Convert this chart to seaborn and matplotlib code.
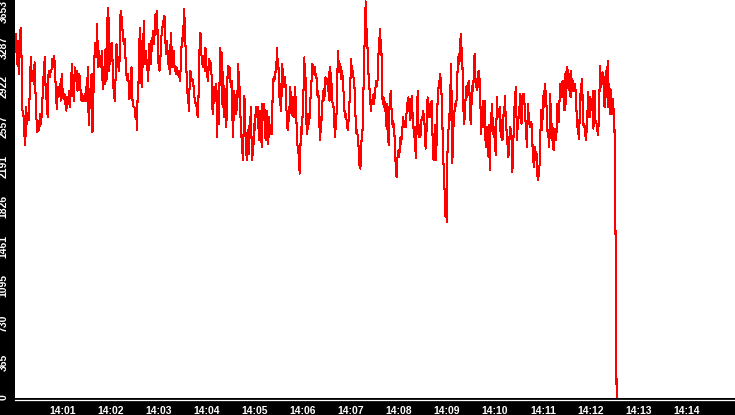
import numpy as np
import pandas as pd
import matplotlib
matplotlib.use("Agg")
import matplotlib.pyplot as plt
import matplotlib.dates as mdates
from matplotlib.transforms import ScaledTranslation
import seaborn as sns

# --- data (one segment per ~2 minutes) ---
DAY = "2024-01-01 "
seg_bounds = ["14:00:00", "14:02:06", "14:04:10", "14:06:15", "14:08:20", "14:10:25", "14:12:30"]

seg1 = [3202, 3339, 3065, 3278, 2973, 3247, 3399, 3126, 2638, 2608, 2425, 2319, 2669, 2517, 2608, 2547,
        2912, 3126, 2912, 3004, 2882, 3080, 2791, 2562, 2441, 2547, 2456, 2608, 2517, 2669, 2852, 3034,
        3126, 2760, 2730, 2578, 3004, 2943, 2989, 3004, 3110, 3034, 3141, 3004, 2745, 2654, 2852, 2791,
        2882, 2730, 2973, 2821, 2745, 2791, 2699, 2638, 2760, 2699, 2821, 2669, 2882, 3065, 2852, 2730,
        3034, 2912, 3004, 2821, 2912, 2973, 2852, 2730, 2791, 2730, 2760, 2730, 2852, 2730, 3034, 2502,
        2699, 2852, 2973, 2441, 2775, 3110, 3263, 3126, 3430, 3034, 3186, 3065, 3034, 3186, 2836, 3034,
        2882, 3202, 2912, 3476, 3582, 3004, 3247, 3095, 3263, 2912, 2791, 2730]

seg2 = [3004, 3247, 3186, 3034, 3126, 3004, 3217, 3552, 3521, 3460, 3354, 3278, 3247, 3293, 3156, 3004,
        2943, 2912, 2973, 2852, 2745, 2912, 2852, 3034, 2760, 2699, 2669, 2669, 2654, 2562, 2638, 2456,
        2821, 2852, 3095, 3399, 3308, 2943, 2852, 3034, 3217, 3460, 3126, 3065, 3186, 3095, 3065, 2912,
        3034, 3247, 3156, 3065, 3278, 3186, 3369, 3308, 3247, 3399, 3521, 3339, 3552, 3369, 3080, 3065,
        3004, 3065, 3278, 3339, 3384, 3460, 3430, 3506, 3460, 3156, 3232, 3278, 3065, 3186, 3065, 2973,
        3247, 3354, 3034, 3156, 3095, 3186, 3004, 3049, 2973, 3034, 3004, 2989, 2943, 2973, 2912, 3065,
        3217, 3308, 3278, 3415, 3567, 3369, 3217, 3034, 2912, 2775, 2730, 2638, 2912, 3004, 2943, 2912,
        2928, 2882, 2852, 2760, 2730, 2684, 2699, 2608, 2578, 2791, 3110, 3354, 3339, 3171, 3065, 3141,
        3034, 3095, 3004, 3217, 3126, 2943, 3034, 2912, 3110, 3065, 3095, 3065, 2958, 2669, 2608, 2730,
        2852]

seg3 = [2852, 2730, 2882, 2395, 2638, 2821, 2517, 3004, 3217, 3034, 3171, 2699, 2989, 2578, 2867, 2730,
        2760, 2486, 2730, 3004, 3049, 3004, 3034, 2912, 2852, 2912, 2608, 2395, 2608, 2821, 2669, 2760,
        2608, 2730, 2852, 3065, 2760, 2852, 2608, 2486, 2364, 2273, 2182, 2486, 2775, 2638, 2364, 2243,
        2182, 2456, 2364, 2243, 2578, 2486, 2669, 2304, 2182, 2364, 2334, 2517, 2456, 2638, 2669, 2578,
        2669, 2517, 2364, 2547, 2638, 2486, 2304, 2699, 2547, 2608, 2699, 2456, 2364, 2486, 2638, 2486,
        2334, 2578, 2486, 2425, 2425, 2425, 2669, 2897, 2943, 2912, 2958, 3004, 3034, 3217, 3034, 3110,
        2760, 2882, 2699, 2638, 2821, 3065, 2882, 2852, 2897, 2943, 2852, 2669, 2547, 2456, 2517, 2608,
        2699, 2852, 2669, 2593, 2760, 2608, 2578, 2730, 2852, 2730, 2578, 2364, 2304, 2273, 2182, 2060,
        2273, 2486, 2425, 2517, 2760, 2852, 3126, 2882, 2943, 2547, 2425, 2486, 2608, 2517, 2578, 2730,
        2821, 2943, 3065, 3034, 3004, 2973]

seg4 = [3034, 2943, 2973, 2836, 2760, 2821, 2669, 2456, 2364, 2578, 2547, 2669, 2821, 2730, 2836, 2775,
        2943, 2912, 2928, 2882, 2821, 2989, 2730, 3034, 2943, 2897, 2730, 2699, 2669, 2669, 2395, 2456,
        2547, 2638, 2973, 3186, 3065, 2989, 3065, 3034, 2928, 3004, 2943, 2836, 2760, 2608, 2578, 2608,
        2547, 2486, 2456, 2547, 2638, 2821, 2943, 3110, 2989, 3004, 2973, 2912, 2852, 2638, 2547, 2425,
        2456, 2395, 2334, 2151, 2121, 2106, 2273, 2395, 2425, 2578, 2943, 3186, 3369, 3640, 3415, 3339,
        3186, 3004, 2912, 2821, 2730, 2638, 2699, 2730, 2745, 2791, 2699, 2821, 2852, 2912, 2867, 2912,
        3095, 3217, 3308, 3384, 3217, 3186, 2821, 2699, 2760, 2730, 2638, 2715, 2547, 2471, 2699, 2425,
        2319, 2669, 2699, 2821, 2669, 2608, 2486, 2547, 2456, 2395, 2243, 2060, 2030, 2182, 2243, 2273,
        2212, 2304, 2395, 2334, 2425, 2486, 2578, 2486, 2547, 2517, 2486, 2608, 2669, 2730, 2760, 2669,
        2608, 2547, 2699, 2775, 2638, 2517, 2456, 2395]

seg5 = [2487, 2198, 2365, 2548, 2822, 2548, 2396, 2472, 2396, 2456, 2578, 2548, 2639, 2609, 2548, 2456,
        2289, 2396, 2548, 2761, 2639, 2578, 2700, 2609, 2578, 2730, 2548, 2243, 2183, 2335, 2502, 2304,
        2183, 2487, 2700, 2837, 2852, 2913, 2974, 2913, 2791, 2670, 2304, 2152, 1999, 1848, 1665, 1756,
        1619, 2243, 2456, 2472, 2609, 2548, 3065, 2883, 2152, 2243, 2487, 2517, 2700, 2670, 2730, 2730,
        2974, 3065, 3157, 3065, 3187, 3339, 3233, 3157, 2974, 2670, 2517, 2578, 2700, 2822, 2867, 2761,
        2807, 2913, 2852, 2670, 2517, 2670, 2761, 2883, 2822, 3065, 3157, 2974, 2852, 2883, 2822, 2898,
        3004, 2974, 2867, 2654, 2426, 2609, 2487, 2730, 2578, 2730, 2426, 2304, 2396, 2487, 2304, 2213,
        2502, 2091, 2456, 2517, 2700, 2578, 2426, 2487, 2396, 2304, 2228, 2548, 2761, 2578, 2624, 2609,
        2670, 2456, 2396, 2548, 2365, 2456, 2670, 2609, 2776, 2548, 2487, 2335, 2396, 2213, 2304, 2426,
        2487, 2411, 2365, 2076, 2243, 2456, 2670]

seg6 = [2670, 2853, 2670, 2366, 2488, 2548, 2609, 2685, 2792, 2762, 2518, 2670, 2746, 2792, 2731, 2670,
        2548, 2488, 2305, 2518, 2701, 2579, 2518, 2488, 2518, 2533, 2472, 2274, 2183, 2122, 2244, 2305,
        2183, 2244, 2061, 2001, 2031, 2122, 2153, 2457, 2640, 2457, 2548, 2701, 2822, 2670, 2883, 2792,
        2701, 2609, 2396, 2457, 2305, 2427, 2792, 2488, 2366, 2518, 2427, 2274, 2427, 2396, 2472, 2366,
        2518, 2701, 2579, 2533, 2701, 2883, 2762, 2838, 2883, 2914, 2792, 2640, 2975, 2640, 2883, 3020,
        3035, 2975, 2822, 2975, 2883, 2762, 3005, 2822, 2868, 2914, 2822, 2853, 2883, 2792, 2640, 2579,
        2427, 2548, 2381, 2579, 2792, 2731, 2929, 2853, 2579, 2488, 2518, 2457, 2396, 2366, 2548, 2640,
        2807, 2701, 2579, 2762, 2640, 2701, 2640, 2822, 2472, 2762, 2822, 2548, 2533, 2518, 2457, 2411,
        2518, 2731, 3051, 2853, 2914, 2975, 2990, 2883, 2944, 2670, 2701, 2822, 3005, 2975, 3096, 2670,
        2883, 2609, 2838, 2746, 2609, 2716, 2746, 2609, 2594]

# sensor drops out at the end
tail_times = ["14:12:31", "14:12:32"]
tail_values = [1245, 0]

y_tick_labels = ["0", "365", "730", "1095", "1461", "1826", "2191", "2557", "2922", "3287", "3653"]
y_max = 3653
x_tick_labels = ["14:01", "14:02", "14:03", "14:04", "14:05", "14:06", "14:07",
                 "14:08", "14:09", "14:10", "14:11", "14:12", "14:13", "14:14"]
x_start, x_end = "14:00:00", "14:15:00"

# --- build the frame ---
segments = [seg1, seg2, seg3, seg4, seg5, seg6]
times, values = [], []
for i, seg in enumerate(segments):
    t0 = pd.Timestamp(DAY + seg_bounds[i]).value
    t1 = pd.Timestamp(DAY + seg_bounds[i + 1]).value
    ts = np.linspace(t0, t1, len(seg), endpoint=False)
    times.extend(pd.to_datetime(ts.astype("int64")))
    values.extend(seg)
times.extend(pd.to_datetime([DAY + t for t in tail_times]))
values.extend(tail_values)
df = pd.DataFrame({"time": times, "value": values})

# --- plot ---
sns.set_style("white")
plt.rcParams["font.family"] = ["Liberation Sans", "DejaVu Sans"]

W, H = 735, 415
fig = plt.figure(figsize=(W / 100, H / 100), dpi=100, facecolor="black")
ax = fig.add_axes([15 / W, 17 / H, 720 / W, 398 / H], facecolor="white")

sns.lineplot(data=df, x="time", y="value", color="#ff0000", linewidth=0.75,
             estimator=None, antialiased=False, ax=ax)

ax.set_xlim(pd.Timestamp(DAY + x_start), pd.Timestamp(DAY + x_end))
ax.set_ylim(0, y_max)
ax.set_xlabel("")
ax.set_ylabel("")

ax.set_xticks([pd.Timestamp(DAY + t) for t in x_tick_labels])
ax.xaxis.set_major_formatter(mdates.DateFormatter("%H:%M"))
ax.set_yticks(np.linspace(0, y_max, len(y_tick_labels)))
ax.set_yticklabels(y_tick_labels)

for side in ["top", "right", "left"]:
    ax.spines[side].set_visible(False)
ax.spines["bottom"].set_color("white")
ax.spines["bottom"].set_linewidth(0.9)
ax.spines["bottom"].set_position(("outward", 1.4))

ax.tick_params(axis="both", colors="white", labelcolor="white", direction="out",
               length=3.6, width=0.8, labelsize=7.5, pad=1.0)
ax.tick_params(axis="y", labelrotation=90)
ax.grid(False)

for lbl in ax.get_xticklabels() + ax.get_yticklabels():
    lbl.set_fontweight("bold")

shift = ScaledTranslation(0, 3 / 72, fig.dpi_scale_trans)
for lbl in ax.get_yticklabels():
    lbl.set_verticalalignment("top")
    if lbl.get_text() != y_tick_labels[-1]:
        lbl.set_transform(lbl.get_transform() + shift)

fig.savefig("out.png", dpi=100, facecolor="black")
